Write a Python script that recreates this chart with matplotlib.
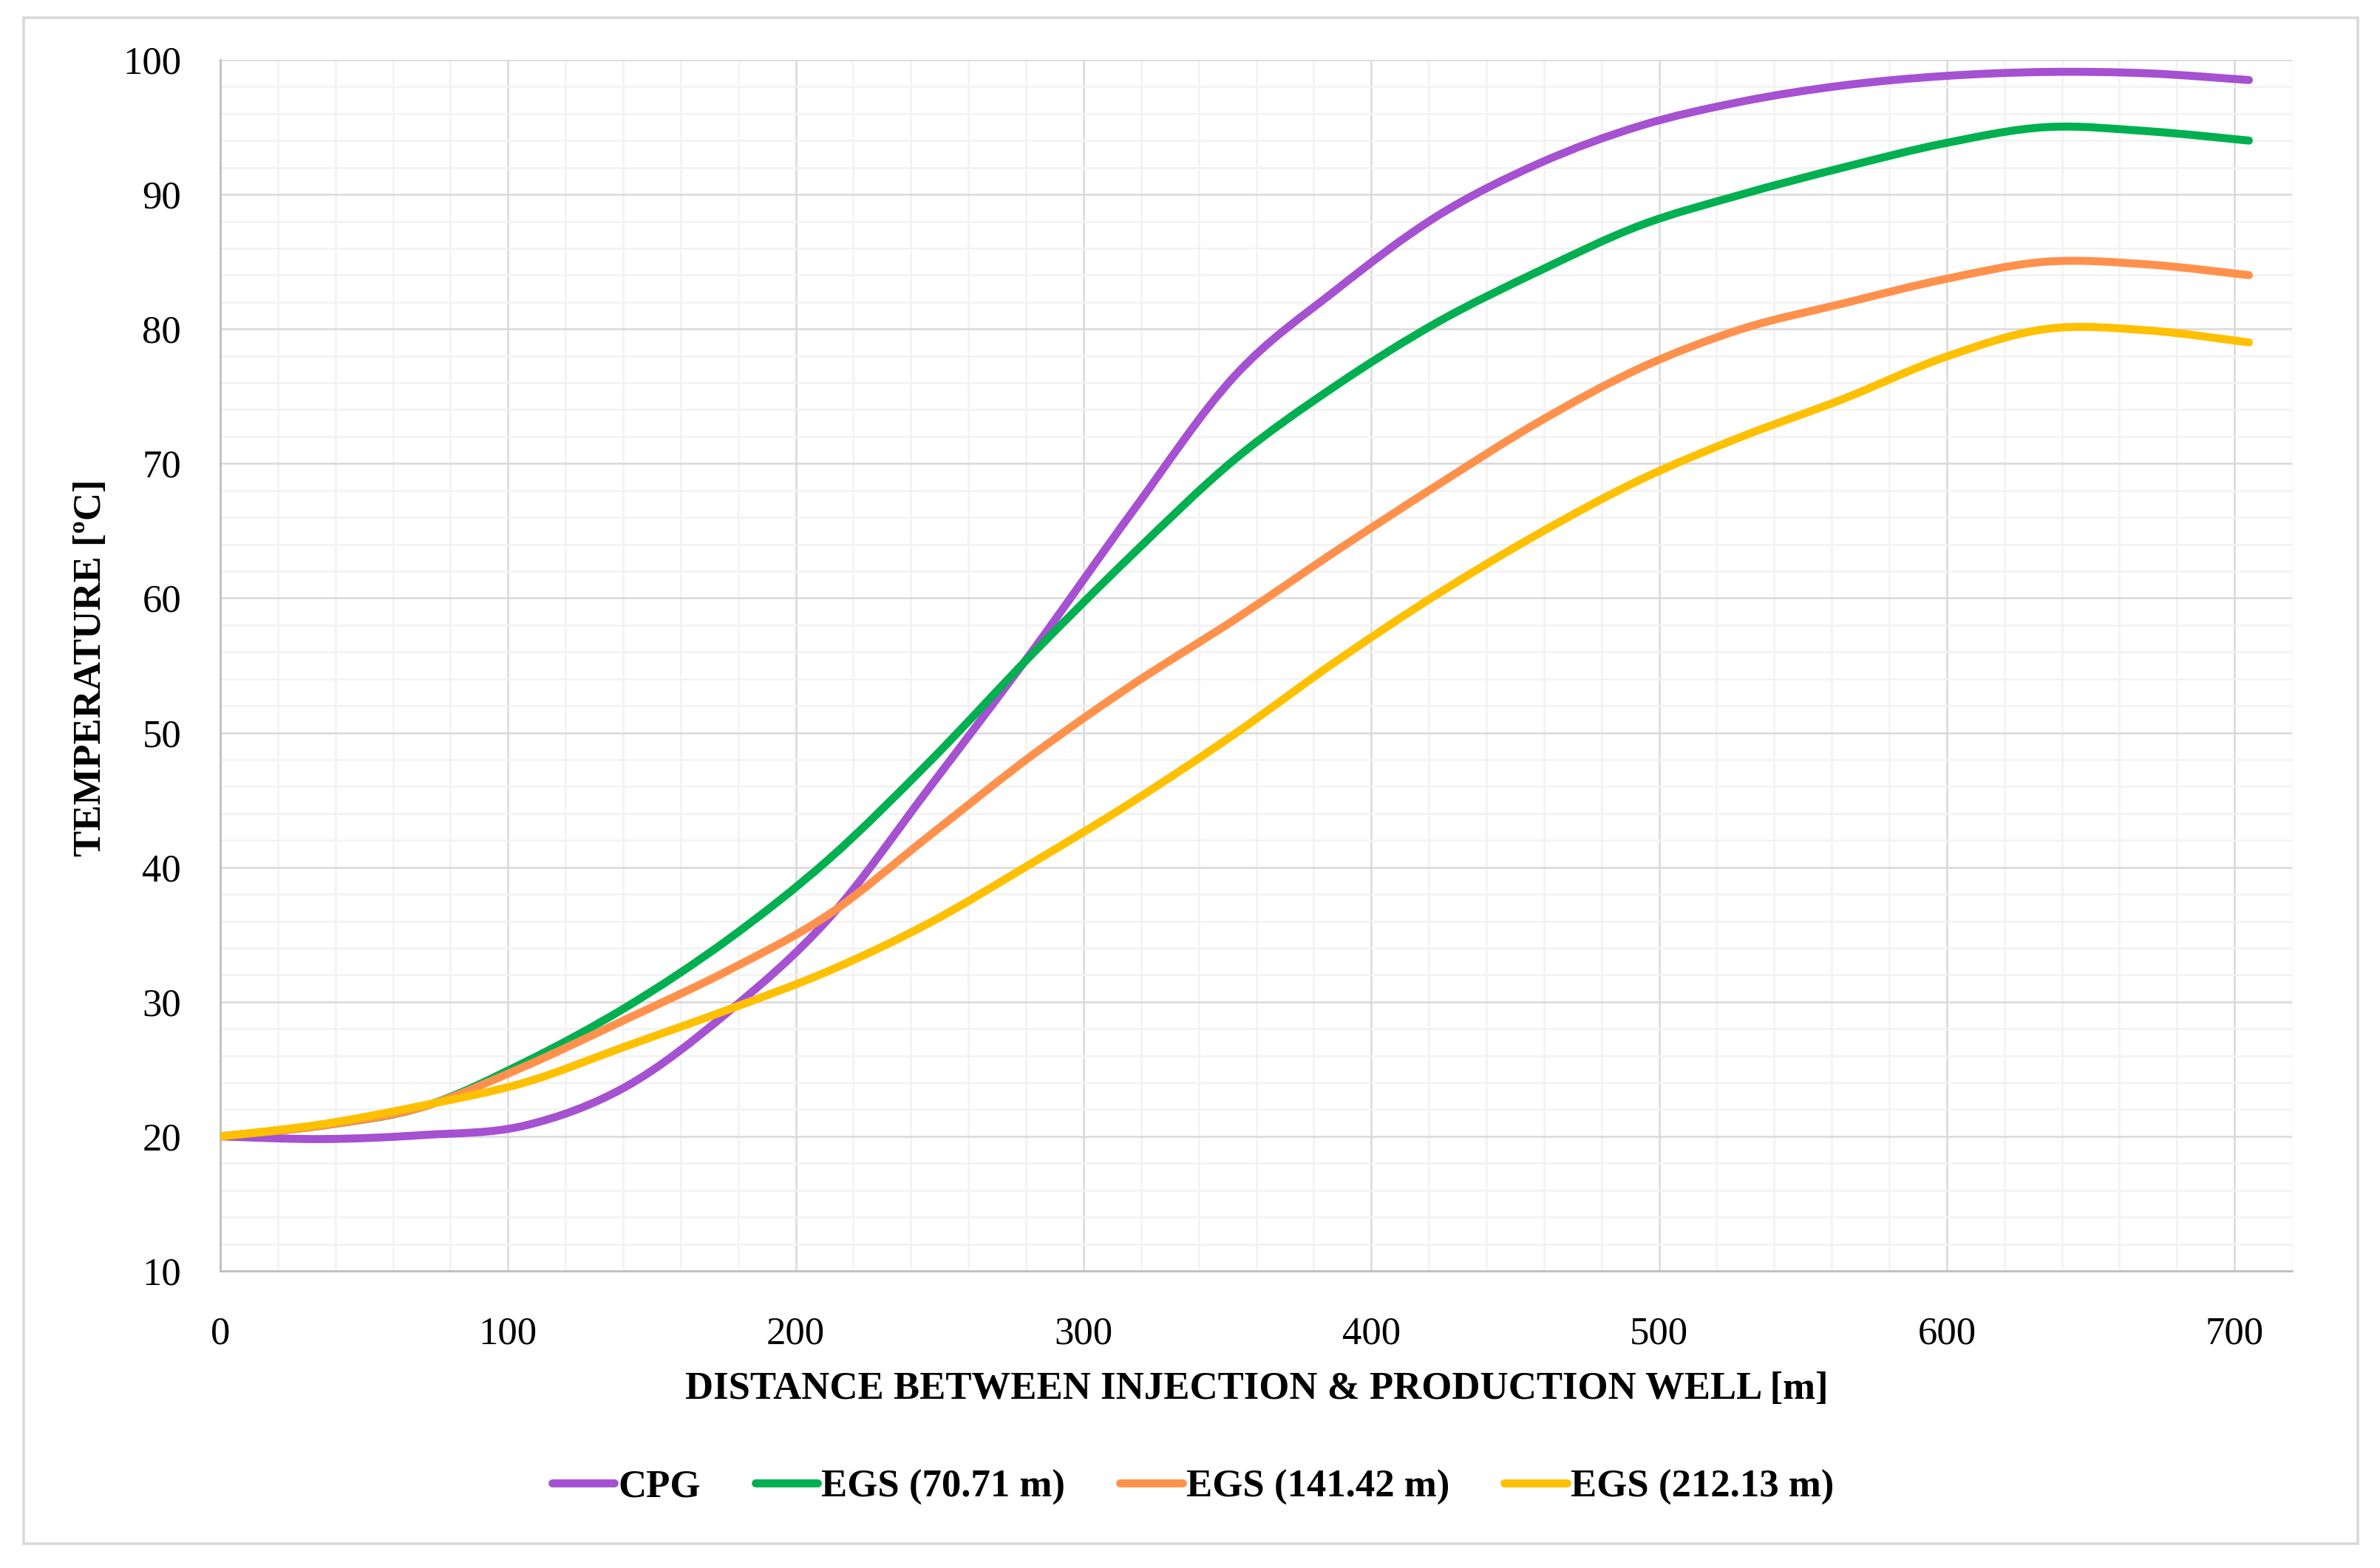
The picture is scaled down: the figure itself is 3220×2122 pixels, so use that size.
import matplotlib
matplotlib.use("Agg")
import matplotlib.pyplot as plt
from matplotlib.path import Path
from matplotlib.patches import PathPatch, Rectangle
from matplotlib.lines import Line2D
from matplotlib.ticker import MultipleLocator

# ---- data ----
distance = [0, 35.25, 70.5, 105.75, 141, 176.25, 211.5, 246.75, 282, 317.25, 352.5,
            387.75, 423, 458.25, 493.5, 528.75, 564, 599.25, 634.5, 669.75, 705]
cpg = [20.0, 19.8, 20.1, 20.8, 23.7, 29.2, 36.2, 46.0, 56.0, 66.5, 76.5,
       82.9, 88.4, 92.3, 95.1, 96.9, 98.1, 98.8, 99.1, 99.0, 98.5]
egs_70 = [20.0, 20.8, 22.2, 25.5, 29.6, 34.6, 40.6, 47.9, 55.8, 63.3, 70.3,
          75.8, 80.5, 84.3, 87.7, 90.0, 92.0, 93.8, 95.0, 94.7, 94.0]
egs_141 = [20.0, 20.8, 22.2, 25.2, 28.7, 32.3, 36.5, 42.4, 48.3, 53.6, 58.4,
           63.5, 68.4, 73.1, 77.1, 80.0, 81.9, 83.7, 85.0, 84.8, 84.0]
egs_212 = [20.0, 20.9, 22.3, 24.0, 26.7, 29.4, 32.3, 35.9, 40.3, 44.9, 49.9,
           55.3, 60.3, 64.8, 68.8, 72.0, 74.8, 77.9, 80.0, 79.9, 79.0]

series_names = ["CPG", "EGS (70.71 m)", "EGS (141.42 m)", "EGS (212.13 m)"]
series_values = [cpg, egs_70, egs_141, egs_212]
series_colors = ["#A551D1", "#00B050", "#FF914D", "#FFC000"]

x_ticks = [0, 100, 200, 300, 400, 500, 600, 700]
y_ticks = [10, 20, 30, 40, 50, 60, 70, 80, 90, 100]

FONT = "Liberation Serif"
plt.rcParams["font.family"] = [FONT, "DejaVu Serif"]

W, H, DPI = 3220, 2122, 200
fig = plt.figure(figsize=(W / DPI, H / DPI), dpi=DPI)
fig.patch.set_facecolor("white")

# outer chart border
fig.add_artist(Rectangle((32 / W, 1 - 2089 / H), (3190 - 32) / W, (2089 - 24) / H,
                         transform=fig.transFigure, fill=False,
                         edgecolor="#D9D9D9", linewidth=1.3))

ax = fig.add_axes([298 / W, 1 - 1720 / H, (3101 - 298) / W, (1720 - 81) / H])
ax.set_xlim(0, 720)
ax.set_ylim(10, 100)
ax.set_xticks(x_ticks)
ax.set_yticks(y_ticks)
ax.xaxis.set_minor_locator(MultipleLocator(20))
ax.yaxis.set_minor_locator(MultipleLocator(2))
ax.grid(which="major", color="#D9D9D9", linewidth=0.9)
ax.grid(which="minor", color="#F2F2F2", linewidth=0.9)
ax.set_axisbelow(True)
for s in ["top", "right"]:
    ax.spines[s].set_visible(False)
for s in ["left", "bottom"]:
    ax.spines[s].set_color("#BFBFBF")
    ax.spines[s].set_linewidth(1.0)
ax.tick_params(which="both", length=0)
ax.tick_params(axis="x", pad=22, labelsize=19)
ax.tick_params(axis="y", pad=19, labelsize=19)


def smooth_path(xs, ys):
    pts = list(zip(xs, ys))
    n = len(pts)
    verts = [pts[0]]
    codes = [Path.MOVETO]
    for i in range(n - 1):
        p0 = pts[max(i - 1, 0)]
        p1 = pts[i]
        p2 = pts[i + 1]
        p3 = pts[min(i + 2, n - 1)]
        c1 = (p1[0] + (p2[0] - p0[0]) / 6.0, p1[1] + (p2[1] - p0[1]) / 6.0)
        c2 = (p2[0] - (p3[0] - p1[0]) / 6.0, p2[1] - (p3[1] - p1[1]) / 6.0)
        verts += [c1, c2, p2]
        codes += [Path.CURVE4, Path.CURVE4, Path.CURVE4]
    return Path(verts, codes)


LW = 3.9
handles = []
for name, vals, col in zip(series_names, series_values, series_colors):
    patch = PathPatch(smooth_path(distance, vals), facecolor="none", edgecolor=col,
                      linewidth=LW, capstyle="round", joinstyle="round",
                      transform=ax.transData, zorder=3)
    ax.add_patch(patch)
    handles.append(Line2D([], [], color=col, linewidth=LW, solid_capstyle="round"))

fig.text(1700 / W, 1 - 1880 / H, "DISTANCE BETWEEN INJECTION & PRODUCTION WELL [m]",
         ha="center", va="center", fontsize=19, fontweight="bold")
fig.text(123 / W, 1 - 904 / H, "TEMPERATURE [ºC]", ha="center", va="center",
         rotation=90, fontsize=19, fontweight="bold")

fig.legend(handles, series_names, loc="center", bbox_to_anchor=(1614 / W, 1 - 2013 / H),
           ncol=4, frameon=False, handlelength=1.6, handletextpad=0.1,
           columnspacing=1.4, prop={"family": FONT, "weight": "bold", "size": 19})

fig.savefig("out.png", dpi=DPI, facecolor="white")
